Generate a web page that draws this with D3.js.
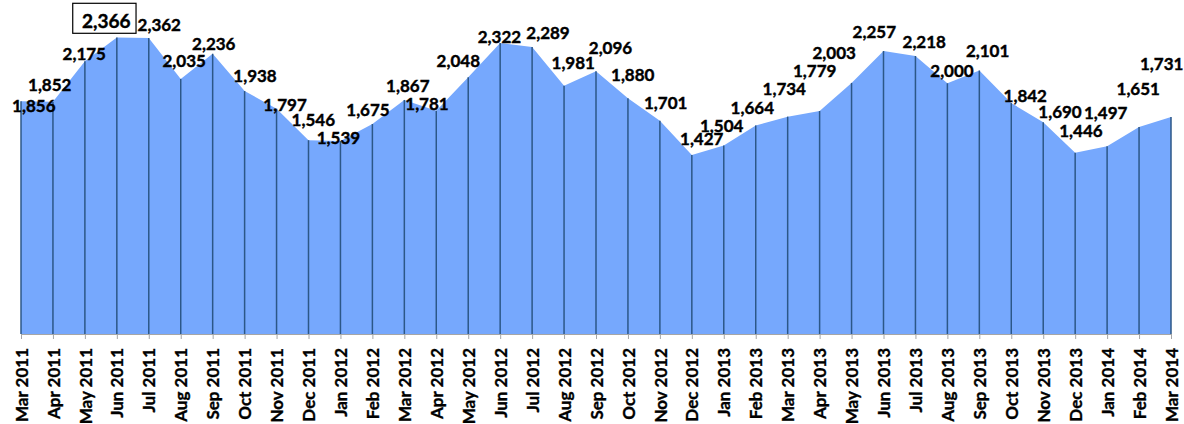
<!DOCTYPE html>
<html>
<head>
<meta charset="utf-8">
<script src="https://cdn.jsdelivr.net/npm/d3@7/dist/d3.min.js"></script>
<style>
  html, body { margin: 0; padding: 0; background: #ffffff; }
  svg { display: block; }
</style>
</head>
<body>
<svg id="chart" width="1184" height="424"></svg>
<script>
// ---- data ----
const months = [
  "Mar 2011","Apr 2011","May 2011","Jun 2011","Jul 2011","Aug 2011","Sep 2011","Oct 2011","Nov 2011","Dec 2011",
  "Jan 2012","Feb 2012","Mar 2012","Apr 2012","May 2012","Jun 2012","Jul 2012","Aug 2012","Sep 2012","Oct 2012","Nov 2012","Dec 2012",
  "Jan 2013","Feb 2013","Mar 2013","Apr 2013","May 2013","Jun 2013","Jul 2013","Aug 2013","Sep 2013","Oct 2013","Nov 2013","Dec 2013",
  "Jan 2014","Feb 2014","Mar 2014"
];
const values = [
  1856, 1852, 2175, 2366, 2362, 2035, 2236, 1938, 1797, 1546,
  1539, 1675, 1867, 1781, 2048, 2322, 2289, 1981, 2096, 1880, 1701, 1427,
  1504, 1664, 1734, 1779, 2003, 2257, 2218, 2000, 2101, 1842, 1690, 1446,
  1497, 1651, 1731
];
const highlightIndex = 3; // boxed label (maximum)

// label nudges [dx, dy] in px relative to each point (layout only)
const labelNudge = [
  [12.8, 4.2], [-3.2, -17.1], [-0.6, -7.6], [-10.6, -15.9], [10.5, -13.4], [3.5, -17.6], [1.1, -9.5], [10.4, -15.3], [8.5, -4], [4.8, -20],
  [-2, -3.6], [-4.4, -14], [3.5, -14], [-9.3, -6.6], [-9.9, -16.5], [-0.7, -6.2], [15.9, -14.6], [9.2, -23.2], [14.5, -23.5], [4.8, -23.1], [5.8, -17.5], [9.9, -16.6],
  [-2.1, -19.7], [-3.4, -17.9], [-3.4, -27.8], [-4.9, -40.5], [-17.4, -30.1], [-9.2, -19.6], [8.8, -13.8], [4.6, -12.1], [8.3, -19.4], [14, -7.3], [16.8, -10], [5.8, -21.9],
  [-1.4, -33.8], [-0.8, -37.8], [-9.3, -52.8]
];

// ---- layout ----
const svg = d3.select("#chart");
const left = 21, right = 1171, baseY = 334, topY = 20.6;

const x = d3.scalePoint().domain(months).range([left, right]);
const y = d3.scaleLinear().domain([0, 2500]).range([baseY, topY]);

const data = months.map((m, i) => ({ m, v: values[i], i }));

// area
const area = d3.area()
  .x(d => x(d.m))
  .y0(y(0))
  .y1(d => y(d.v));

svg.append("path")
  .datum(data)
  .attr("d", area)
  .attr("fill", "#76a8fd");

// drop lines
svg.append("g")
  .selectAll("line")
  .data(data)
  .join("line")
  .attr("x1", d => x(d.m))
  .attr("x2", d => x(d.m))
  .attr("y1", d => y(d.v))
  .attr("y2", y(0))
  .attr("stroke", "#2c5787")
  .attr("stroke-width", 1.5);

// x axis
const xAxis = svg.append("g")
  .attr("transform", `translate(0,${baseY})`)
  .call(d3.axisBottom(x).tickSize(5).tickSizeOuter(0));

xAxis.select(".domain").attr("stroke", "#a6a6a6").attr("stroke-width", 1);
xAxis.selectAll(".tick line").attr("stroke", "#a6a6a6").attr("stroke-width", 1);
xAxis.selectAll(".tick text")
  .attr("font-family", "Lato, 'Open Sans', sans-serif")
  .attr("font-weight", "bold")
  .attr("font-size", 17)
  .attr("fill", "#000")
  .attr("stroke", "#000")
  .attr("stroke-width", 0.35)
  .attr("text-anchor", "end")
  .attr("transform", "rotate(-90)")
  .attr("x", -14)
  .attr("y", 0)
  .attr("dy", "0.36em");

// data labels
const fs = 17;
const labels = svg.append("g")
  .attr("font-family", "Lato, 'Open Sans', sans-serif")
  .attr("font-weight", "bold")
  .attr("fill", "#000")
  .attr("stroke", "#000")
  .attr("stroke-width", 0.4);

const fmt = d3.format(",");

data.forEach(d => {
  const [dx, dy] = labelNudge[d.i];
  const cx = x(d.m) + dx;
  const cy = y(d.v) + dy;
  const size = d.i === highlightIndex ? 19 : fs;
  labels.append("text")
    .attr("x", cx)
    .attr("y", cy + size * 0.36)
    .attr("text-anchor", "middle")
    .attr("font-size", size)
    .text(fmt(d.v));
  if (d.i === highlightIndex) {
    svg.append("rect")
      .attr("x", cx - 33.5)
      .attr("y", cy - 18.2)
      .attr("width", 63.3)
      .attr("height", 30)
      .attr("fill", "none")
      .attr("stroke", "#000")
      .attr("stroke-width", 1.2);
  }
});
</script>
</body>
</html>
